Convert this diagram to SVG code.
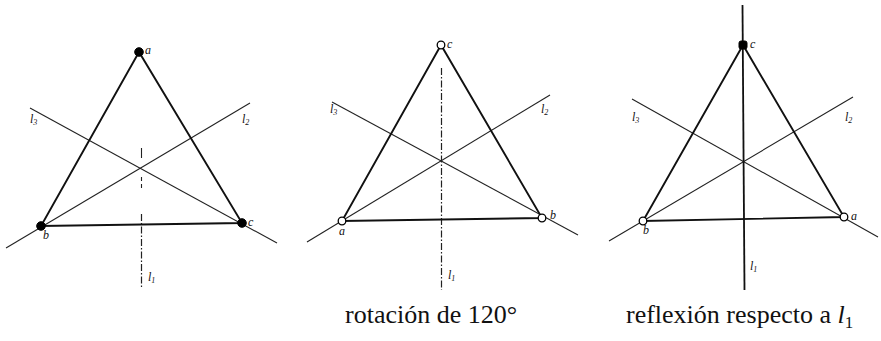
<svg xmlns="http://www.w3.org/2000/svg" width="881" height="341" viewBox="0 0 881 341">
<style>
.side{stroke:#111;stroke-width:1.9;fill:none;stroke-linecap:round}
.axis{stroke:#222;stroke-width:1.1;fill:none}
.dash{stroke:#222;stroke-width:1.2;fill:none;stroke-dasharray:7,2,1.5,2}
.solid{stroke:#111;stroke-width:1.8;fill:none}
.fill{fill:#000;stroke:#000;stroke-width:1}
.open{fill:#fff;stroke:#000;stroke-width:1.3}
.lbl{font-style:italic;font-size:12px;fill:#111}
.sub{font-size:8px}
.cap{font-size:26px;fill:#111}
</style>
<rect width="881" height="341" fill="#fff"/>
<g id="panel1">
  <g id="p1-axes">
    <line class="axis" x1="30" y1="108" x2="277" y2="243"/>
    <line class="axis" x1="6" y1="248" x2="250" y2="103"/>
    <line class="axis" x1="141.5" y1="148" x2="141.5" y2="158"/>
    <line class="axis" x1="141.5" y1="177" x2="141.5" y2="181"/>
    <line class="axis" x1="141.5" y1="184" x2="141.5" y2="188"/>
    <line class="dash" x1="141.5" y1="214" x2="141.5" y2="288"/>
  </g>
  <g id="p1-triangle">
    <polygon class="side" points="139,52 41,226 242,223"/>
  </g>
  <g id="p1-a"><circle class="fill" cx="139" cy="52" r="4.3"/><text class="lbl" font-family="Liberation Serif, serif" x="145" y="54">a</text></g>
  <g id="p1-b"><circle class="fill" cx="41" cy="226" r="4.3"/><text class="lbl" font-family="Liberation Serif, serif" x="43" y="239">b</text></g>
  <g id="p1-c"><circle class="fill" cx="242" cy="223" r="4.3"/><text class="lbl" font-family="Liberation Serif, serif" x="248" y="226">c</text></g>
  <g id="p1-labels" font-family="Liberation Serif, serif">
    <text class="lbl" x="30" y="123">l<tspan class="sub" dy="2">3</tspan></text>
    <text class="lbl" x="242" y="123">l<tspan class="sub" dy="2">2</tspan></text>
    <text class="lbl" x="148" y="281">l<tspan class="sub" dy="2">1</tspan></text>
  </g>
</g>
<g id="panel2">
  <g id="p2-axes">
    <line class="axis" x1="332" y1="102" x2="578" y2="235"/>
    <line class="axis" x1="307" y1="242" x2="550" y2="95"/>
    <line class="dash" x1="441.5" y1="68" x2="441.5" y2="290"/>
  </g>
  <g id="p2-triangle">
    <polygon class="side" points="441,45 342,221 542,218"/>
  </g>
  <g id="p2-c"><circle class="open" cx="441" cy="45" r="3.8"/><text class="lbl" font-family="Liberation Serif, serif" x="447" y="48">c</text></g>
  <g id="p2-a"><circle class="open" cx="342" cy="221" r="3.8"/><text class="lbl" font-family="Liberation Serif, serif" x="339" y="235">a</text></g>
  <g id="p2-b"><circle class="open" cx="542" cy="218" r="3.8"/><text class="lbl" font-family="Liberation Serif, serif" x="550" y="219">b</text></g>
  <g id="p2-labels" font-family="Liberation Serif, serif">
    <text class="lbl" x="330" y="113">l<tspan class="sub" dy="2">3</tspan></text>
    <text class="lbl" x="541" y="113">l<tspan class="sub" dy="2">2</tspan></text>
    <text class="lbl" x="448" y="279">l<tspan class="sub" dy="2">1</tspan></text>
  </g>
</g>
<g id="panel3">
  <g id="p3-axes">
    <line class="axis" x1="632" y1="99" x2="878" y2="237"/>
    <line class="axis" x1="609" y1="241" x2="853" y2="97"/>
    <line class="solid" x1="742.5" y1="5" x2="744.5" y2="290"/>
  </g>
  <g id="p3-triangle">
    <polygon class="side" points="743,45 643,221 844,217"/>
  </g>
  <g id="p3-c"><rect class="fill" x="739" y="41" width="8" height="8" rx="2"/><text class="lbl" font-family="Liberation Serif, serif" x="750" y="48">c</text></g>
  <g id="p3-b"><circle class="open" cx="643" cy="221" r="3.8"/><text class="lbl" font-family="Liberation Serif, serif" x="643" y="234">b</text></g>
  <g id="p3-a"><circle class="open" cx="844" cy="217" r="3.8"/><text class="lbl" font-family="Liberation Serif, serif" x="851" y="220">a</text></g>
  <g id="p3-labels" font-family="Liberation Serif, serif">
    <text class="lbl" x="632" y="121">l<tspan class="sub" dy="2">3</tspan></text>
    <text class="lbl" x="845" y="121">l<tspan class="sub" dy="2">2</tspan></text>
    <text class="lbl" x="750" y="270">l<tspan class="sub" dy="2">1</tspan></text>
  </g>
</g>
<g id="captions" font-family="Liberation Serif, serif">
  <text class="cap" x="345" y="323">rotación de 120°</text>
  <text class="cap" x="626" y="323">reflexión respecto a <tspan font-style="italic">l</tspan><tspan font-size="17" dy="5">1</tspan></text>
</g>
</svg>
